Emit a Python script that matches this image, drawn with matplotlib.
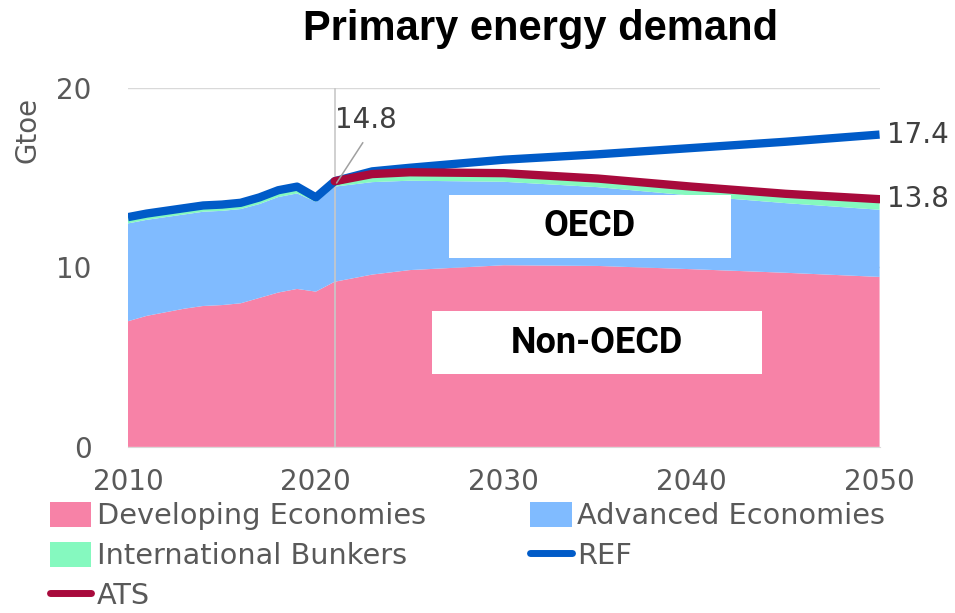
import matplotlib
matplotlib.use("Agg")
import matplotlib.pyplot as plt
from matplotlib.patches import Patch, Rectangle
from matplotlib.lines import Line2D
import numpy as np

# ---------------- data ----------------
years = [2010, 2011, 2012, 2013, 2014, 2015, 2016, 2017, 2018, 2019, 2020, 2021,
         2023, 2025, 2030, 2035, 2040, 2045, 2050]
developing = [7.0, 7.3, 7.5, 7.7, 7.85, 7.9, 8.0, 8.3, 8.6, 8.8, 8.65, 9.2,
              9.6, 9.85, 10.12, 10.08, 9.9, 9.7, 9.47]
advanced = [5.45, 5.35, 5.3, 5.25, 5.25, 5.25, 5.25, 5.23, 5.32, 5.32, 5.0, 5.3,
            5.15, 4.98, 4.65, 4.39, 4.1, 3.88, 3.74]
bunkers = [0.35, 0.35, 0.35, 0.35, 0.35, 0.35, 0.35, 0.37, 0.38, 0.38, 0.25, 0.3,
           0.45, 0.47, 0.48, 0.48, 0.5, 0.52, 0.54]
ref_years = years
ref = [12.8, 13.0, 13.15, 13.3, 13.45, 13.5, 13.6, 13.9, 14.3, 14.5, 13.9, 14.8,
       15.35, 15.55, 16.0, 16.3, 16.65, 17.0, 17.4]
ats_years = [2021, 2023, 2025, 2030, 2035, 2040, 2045, 2050]
ats = [14.8, 15.2, 15.3, 15.25, 14.95, 14.5, 14.1, 13.8]
base_year = 2021

x_ticks = [2010, 2020, 2030, 2040, 2050]
y_ticks = [0, 10, 20]

# ---------------- style ----------------
c_dev = "#F782A7"
c_adv = "#80BBFF"
c_bun = "#85F9BF"
c_ref = "#005BC8"
c_ats = "#A80A3C"
c_txt = "#595959"

plt.rcParams["font.family"] = ["DejaVu Sans"]

fig = plt.figure(figsize=(9.55, 6.13), dpi=100)
ax = fig.add_axes([0.134, 0.271, 0.787, 0.5856])

ax.stackplot(years, developing, advanced, bunkers,
             colors=[c_dev, c_adv, c_bun], linewidth=0, zorder=2)
ax.plot(ref_years, ref, color=c_ref, lw=6, solid_capstyle="butt",
        solid_joinstyle="round", zorder=4)
ax.plot(ats_years, ats, color=c_ats, lw=6, solid_capstyle="round",
        solid_joinstyle="round", zorder=5)

ax.axvline(base_year, color="#C8C8C8", lw=1.2, zorder=3)

ax.set_xlim(2010, 2050)
ax.set_ylim(0, 20)
ax.set_xticks(x_ticks)
ax.set_yticks(y_ticks)
ax.tick_params(axis="both", length=0, labelsize=20, labelcolor=c_txt)
ax.tick_params(axis="y", pad=26)
ax.tick_params(axis="x", pad=15)
for s in ["left", "right", "top"]:
    ax.spines[s].set_visible(False)
ax.spines["bottom"].set_color("#D9D9D9")
ax.spines["bottom"].set_zorder(6)
ax.yaxis.grid(True, color="#D9D9D9", lw=1)
ax.set_axisbelow(True)

# value labels
ax.text(2050.4, ref[-1], f"{ref[-1]:.1f}", ha="left", va="center",
        fontsize=20, color="#404040", clip_on=False)
ax.text(2050.4, ats[-1], f"{ats[-1]:.1f}", ha="left", va="center",
        fontsize=20, color="#404040", clip_on=False)
ax.text(2021.0, 18.2, f"{ats[0]:.1f}", ha="left", va="center",
        fontsize=20, color="#404040")
ax.annotate("", xy=(ats_years[0] + 0.1, ats[0] - 0.1), xytext=(2022.5, 16.95),
            arrowprops=dict(arrowstyle="-", color="#A0A0A0", lw=1.1,
                            shrinkA=0, shrinkB=0), zorder=6)

# region labels
ax.add_patch(Rectangle((0.427, 0.527), 0.375, 0.175, transform=ax.transAxes,
                       facecolor="white", edgecolor="none", zorder=6))
ax.text(0.614, 0.616, "OECD", transform=ax.transAxes, ha="center", va="center",
        fontsize=26, fontweight="bold", family=["Roboto", "DejaVu Sans"],
        color="black", zorder=7)
ax.add_patch(Rectangle((0.404, 0.203), 0.44, 0.175, transform=ax.transAxes,
                       facecolor="white", edgecolor="none", zorder=6))
ax.text(0.624, 0.29, "Non-OECD", transform=ax.transAxes, ha="center", va="center",
        fontsize=26, fontweight="bold", family=["Roboto", "DejaVu Sans"],
        color="black", zorder=7)

# title and axis label
fig.text(0.566, 0.953, "Primary energy demand", ha="center", va="center",
         fontsize=30, fontweight="bold", family=["Liberation Sans", "DejaVu Sans"])
fig.text(0.029, 0.788, "Gtoe", rotation=90, ha="center", va="center",
         fontsize=20, color=c_txt)

# legend
h_dev = Patch(facecolor=c_dev, edgecolor="none")
h_adv = Patch(facecolor=c_adv, edgecolor="none")
h_bun = Patch(facecolor=c_bun, edgecolor="none")
h_ref = Line2D([], [], color=c_ref, lw=5, solid_capstyle="round")
h_ats = Line2D([], [], color=c_ats, lw=5, solid_capstyle="round")

leg_kw = dict(frameon=False, fontsize=20.7, labelcolor=c_txt, handlelength=1.45,
              handleheight=0.95, handletextpad=0.2, labelspacing=0.40,
              borderaxespad=0, borderpad=0)
leg1 = fig.legend([h_dev, h_bun, h_ats],
                  ["Developing Economies", "International Bunkers", "ATS"],
                  loc="upper left", bbox_to_anchor=(0.052, 0.181), **leg_kw)
leg2 = fig.legend([h_adv, h_ref], ["Advanced Economies", "REF"],
                  loc="upper left", bbox_to_anchor=(0.555, 0.181), **leg_kw)

fig.savefig("out.png", dpi=100)
